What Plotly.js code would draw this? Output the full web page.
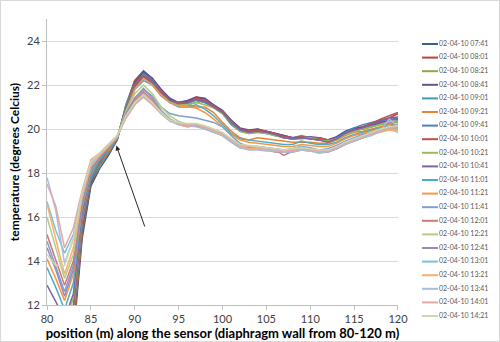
<!DOCTYPE html>
<html>
<head>
<meta charset="utf-8">
<script src="https://cdn.plot.ly/plotly-3.0.1.min.js"></script>
<style>
html,body{margin:0;padding:0;background:#fff;}
#chart{width:498px;height:340px;border:1px solid #d9d9d9;}
</style>
</head>
<body>
<div id="chart"></div>
<script>
// positions along the sensor (m)
const positions = [80,81,82,83,84,85,86,87,88,89,90,91,92,93,94,95,96,97,98,99,100,101,102,103,104,105,106,107,108,109,110,111,112,113,114,115,116,117,118,119,120];

const labels = ["02-04-10 07:41","02-04-10 08:01","02-04-10 08:21","02-04-10 08:41","02-04-10 09:01","02-04-10 09:21","02-04-10 09:41","02-04-10 10:01","02-04-10 10:21","02-04-10 10:41","02-04-10 11:01","02-04-10 11:21","02-04-10 11:41","02-04-10 12:01","02-04-10 12:21","02-04-10 12:41","02-04-10 13:01","02-04-10 13:21","02-04-10 13:41","02-04-10 14:01","02-04-10 14:21"];

const colors = ["#3A5F8F","#B8423E","#8BAA45","#6B4F8E","#3E9CB7","#EA842F","#4F7FBF","#C0504D","#9BBB59","#8064A2","#4BACC6","#F79646","#7F9FCF","#CF7774","#B3CD82","#9C88B9","#79C1D6","#F9AE72","#A9BCDC","#E3A8A6","#CAD7AE"];

// temperature (degrees Celcius) per time
const s0741 = [9.0,8.5,8.0,10.5,15.0,17.4,18.2,18.8,19.5,21.1,22.2,22.65,22.3,21.8,21.4,21.2,21.25,21.4,21.3,21.1,20.85,20.4,20.0,19.9,19.95,19.9,19.8,19.7,19.6,19.65,19.6,19.55,19.5,19.65,19.9,20.05,20.1,20.25,20.4,20.5,20.5];
const s0801 = [9.5,9.0,8.6,10.8,15.2,17.5,18.3,18.9,19.5,21.0,22.2,22.55,22.3,21.7,21.3,21.2,21.2,21.45,21.35,21.0,20.7,20.3,20.0,19.85,19.9,19.85,19.75,19.6,19.55,19.6,19.6,19.6,19.5,19.6,19.8,19.95,20.1,20.2,20.35,20.5,20.7];
const s0821 = [10.0,9.5,9.2,11.0,15.4,17.6,18.3,18.9,19.55,21.1,22.1,22.5,22.2,21.7,21.3,21.1,21.1,21.2,21.3,21.05,20.8,20.35,19.95,19.9,20.0,19.85,19.7,19.65,19.55,19.6,19.55,19.5,19.45,19.6,19.8,19.95,20.0,20.1,20.25,20.3,20.3];
const s0841 = [10.6,10.0,9.6,11.2,15.5,17.6,18.4,19.0,19.55,21.0,22.1,22.6,22.3,21.8,21.35,21.2,21.3,21.45,21.4,21.1,20.8,20.4,20.05,19.95,20.0,19.9,19.8,19.7,19.6,19.6,19.65,19.6,19.5,19.6,19.85,20.0,20.05,20.15,20.3,20.4,20.45];
const s0901 = [11.0,10.4,10.0,11.4,15.7,17.7,18.4,19.0,19.55,21.0,22.0,22.5,22.2,21.7,21.3,21.1,21.15,21.3,21.2,21.0,20.7,20.2,19.9,19.8,19.85,19.8,19.7,19.6,19.6,19.7,19.6,19.5,19.45,19.55,19.8,19.95,20.0,20.1,20.2,20.2,20.1];
const s0921 = [11.4,10.8,10.4,11.6,15.8,17.8,18.5,19.0,19.6,20.9,22.0,22.4,22.1,21.6,21.25,21.1,21.1,21.0,21.0,20.75,20.3,19.9,19.6,19.5,19.6,19.55,19.5,19.45,19.4,19.4,19.4,19.35,19.35,19.5,19.7,19.85,19.9,20.0,20.1,20.2,20.2];
const s0941 = [11.6,11.0,10.7,11.8,15.9,17.8,18.5,19.1,19.6,21.0,22.0,22.45,22.2,21.7,21.3,21.15,21.2,21.35,21.2,21.0,20.75,20.3,19.95,19.85,19.9,19.85,19.75,19.65,19.55,19.6,19.55,19.5,19.45,19.6,19.85,20.05,20.2,20.3,20.4,20.45,20.4];
const s1001 = [11.8,11.3,11.0,12.0,16.0,17.9,18.5,19.1,19.6,20.9,22.0,22.4,22.15,21.7,21.3,21.2,21.2,21.4,21.3,21.05,20.8,20.35,20.0,19.9,19.95,19.9,19.8,19.65,19.6,19.65,19.6,19.6,19.5,19.55,19.8,19.95,20.05,20.25,20.45,20.6,20.75];
const s1021 = [11.9,11.5,11.3,12.3,16.1,17.9,18.6,19.1,19.6,20.9,21.9,22.3,22.1,21.6,21.25,21.1,21.1,21.2,21.1,20.95,20.7,20.3,19.9,19.8,19.85,19.8,19.7,19.6,19.55,19.55,19.6,19.5,19.45,19.55,19.75,19.9,20.0,20.1,20.2,20.3,20.35];
const s1041 = [12.9,12.2,11.4,12.5,16.2,18.0,18.6,19.1,19.6,20.9,21.9,22.35,22.1,21.65,21.3,21.15,21.2,21.35,21.25,21.0,20.75,20.3,19.95,19.85,19.9,19.85,19.75,19.6,19.55,19.6,19.55,19.5,19.4,19.55,19.8,19.95,20.05,20.2,20.35,20.5,20.55];
const s1101 = [13.7,12.8,11.8,13.0,16.4,18.0,18.6,19.1,19.6,20.8,21.8,22.2,22.0,21.5,21.2,21.0,21.0,21.1,20.9,20.6,20.2,19.8,19.55,19.5,19.45,19.4,19.35,19.3,19.3,19.45,19.35,19.3,19.3,19.4,19.6,19.75,19.85,19.95,20.05,20.1,19.95];
const s1121 = [14.1,13.2,12.2,13.4,16.5,18.1,18.7,19.2,19.6,20.8,21.8,22.3,22.0,21.55,21.2,21.05,21.0,20.95,20.75,20.45,20.1,19.75,19.5,19.4,19.35,19.3,19.25,19.2,19.2,19.3,19.25,19.2,19.2,19.35,19.55,19.7,19.8,19.9,20.0,20.05,20.0];
const s1141 = [14.9,13.8,12.6,13.8,16.6,18.1,18.7,19.2,19.6,20.7,21.4,21.8,21.5,21.0,20.7,20.6,20.55,20.5,20.4,20.3,20.1,19.7,19.35,19.2,19.2,19.15,19.1,19.05,19.1,19.2,19.15,19.05,19.1,19.25,19.45,19.6,19.75,19.85,19.95,20.1,20.05];
const s1201 = [15.2,14.1,12.9,14.0,16.7,18.2,18.7,19.2,19.65,20.6,21.3,21.7,21.3,20.8,20.45,20.25,20.15,20.15,20.05,19.9,19.75,19.45,19.2,19.15,19.15,19.1,19.05,18.8,19.0,19.1,19.05,18.95,19.0,19.15,19.35,19.5,19.6,19.75,19.9,20.0,20.05];
const s1221 = [16.0,14.6,13.2,14.3,16.8,18.2,18.8,19.2,19.65,20.8,21.6,22.0,21.6,21.0,20.6,20.35,20.2,20.2,20.1,19.95,19.8,19.5,19.2,19.1,19.1,19.05,19.0,19.0,19.05,19.1,19.05,18.95,18.95,19.1,19.3,19.45,19.6,19.75,19.9,20.0,20.0];
const s1241 = [14.6,13.6,12.4,13.6,16.6,18.2,18.7,19.2,19.65,20.7,21.4,21.85,21.4,20.85,20.45,20.2,20.1,20.15,20.0,19.85,19.7,19.4,19.15,19.1,19.1,19.05,18.95,18.95,18.95,19.05,19.0,18.95,18.95,19.1,19.3,19.45,19.6,19.75,19.9,20.3,20.15];
const s1301 = [16.7,15.4,14.35,15.2,17.0,18.4,18.9,19.3,19.65,20.6,21.2,21.6,21.2,20.8,20.45,20.25,20.2,20.2,20.1,19.95,19.8,19.55,19.3,19.2,19.2,19.15,19.1,19.05,19.1,19.2,19.1,19.0,19.0,19.15,19.35,19.5,19.65,19.8,19.95,20.0,19.85];
const s1321 = [16.6,15.0,13.4,14.6,16.9,18.3,18.8,19.2,19.65,20.5,21.2,21.55,21.2,20.75,20.4,20.2,20.1,20.2,20.05,19.9,19.75,19.45,19.2,19.1,19.1,19.05,19.0,18.95,19.0,19.1,19.0,18.95,19.0,19.15,19.3,19.5,19.6,19.75,19.85,19.95,19.9];
const s1341 = [17.8,16.3,13.9,15.0,17.1,18.5,18.9,19.3,19.7,20.5,21.1,21.5,21.15,20.7,20.35,20.2,20.15,20.1,20.0,19.85,19.7,19.4,19.15,19.05,19.05,19.0,19.0,18.95,18.95,19.05,19.0,18.9,18.95,19.1,19.3,19.45,19.6,19.7,19.9,20.45,20.1];
const s1401 = [17.5,16.5,14.6,15.5,17.2,18.6,18.9,19.3,19.7,20.5,21.1,21.45,21.1,20.7,20.4,20.25,20.2,20.2,20.1,19.95,19.8,19.5,19.25,19.2,19.15,19.1,19.05,19.0,19.05,19.1,19.05,19.0,19.0,19.15,19.35,19.5,19.65,19.8,19.95,20.05,20.1];
const s1421 = [14.3,13.8,13.8,15.0,17.1,18.5,18.9,19.3,19.7,20.6,21.2,21.55,21.2,20.75,20.4,20.3,20.25,20.25,20.15,20.0,19.85,19.55,19.3,19.25,19.2,19.15,19.1,19.05,19.1,19.15,19.1,19.05,19.05,19.2,19.4,19.55,19.7,19.85,20.0,20.1,20.15];

const series = [s0741,s0801,s0821,s0841,s0901,s0921,s0941,s1001,s1021,s1041,s1101,s1121,s1141,s1201,s1221,s1241,s1301,s1321,s1341,s1401,s1421];

const FONT = "Lato, 'Open Sans', 'Liberation Sans', sans-serif";
const traces = [];
series.forEach((vals, i) => {
  traces.push({
    type: 'scatter', mode: 'lines', name: labels[i],
    x: positions, y: vals,
    line: {color: colors[i], width: 1.5},
    xaxis: 'x', yaxis: 'y', showlegend: false,
    hoverinfo: 'x+y+name'
  });
});
// legend column drawn on its own hidden axes
labels.forEach((lab, i) => {
  traces.push({
    type: 'scatter', mode: 'lines', x: [4, 20], y: [i, i],
    line: {color: colors[i], width: 2},
    xaxis: 'x2', yaxis: 'y2', showlegend: false, hoverinfo: 'skip'
  });
});
traces.push({
  type: 'scatter', mode: 'text',
  x: labels.map(() => 21), y: labels.map((_, i) => i), text: labels,
  textposition: 'middle right',
  textfont: {family: FONT, size: 7, color: '#595959'},
  xaxis: 'x2', yaxis: 'y2', showlegend: false, hoverinfo: 'skip'
});

const layout = {
  width: 498, height: 340,
  margin: {l: 46, r: 0, t: 18, b: 18},
  paper_bgcolor: '#ffffff', plot_bgcolor: 'rgba(0,0,0,0)',
  showlegend: false,
  font: {family: FONT, color: '#404040'},
  xaxis: {
    domain: [0, 0.7765], range: [80, 120], dtick: 5, tick0: 80,
    showgrid: false, zeroline: false,
    showline: true, linecolor: '#bfbfbf', linewidth: 1,
    ticks: 'outside', ticklen: 4, tickcolor: '#bfbfbf',
    tickfont: {family: FONT, size: 11, color: '#404040'},
    title: {text: 'position (m) along the sensor (diaphragm wall from 80-120 m)', font: {family: FONT, size: 13, color: '#000', weight: 'bold'}, standoff: 4},
    automargin: false, fixedrange: true
  },
  yaxis: {
    domain: [0.0592, 1], range: [12, 25], dtick: 2, tick0: 12,
    showgrid: true, gridcolor: '#d9d9d9', gridwidth: 1, zeroline: false,
    showline: true, linecolor: '#bfbfbf', linewidth: 1,
    ticks: 'outside', ticklen: 4, tickcolor: '#bfbfbf',
    tickfont: {family: FONT, size: 11, color: '#404040'},
    title: {text: 'temperature (degrees Celcius)', font: {family: FONT, size: 12, color: '#000', weight: 'bold'}, standoff: 4},
    automargin: false, fixedrange: true
  },
  xaxis2: {domain: [0.8208, 1], range: [0, 81], visible: false, fixedrange: true, anchor: 'y2'},
  yaxis2: {domain: [0, 1], range: [20.515, -1.838], visible: false, fixedrange: true, anchor: 'x2'},
  annotations: [{
    x: 87.9, y: 19.25, ax: 91.2, ay: 15.5, xref: 'x', yref: 'y', axref: 'x', ayref: 'y',
    showarrow: true, arrowhead: 2, arrowsize: 1, arrowwidth: 1, arrowcolor: '#262626', text: ''
  }]
};

Plotly.newPlot('chart', traces, layout, {displayModeBar: false, staticPlot: true});
</script>
</body>
</html>
